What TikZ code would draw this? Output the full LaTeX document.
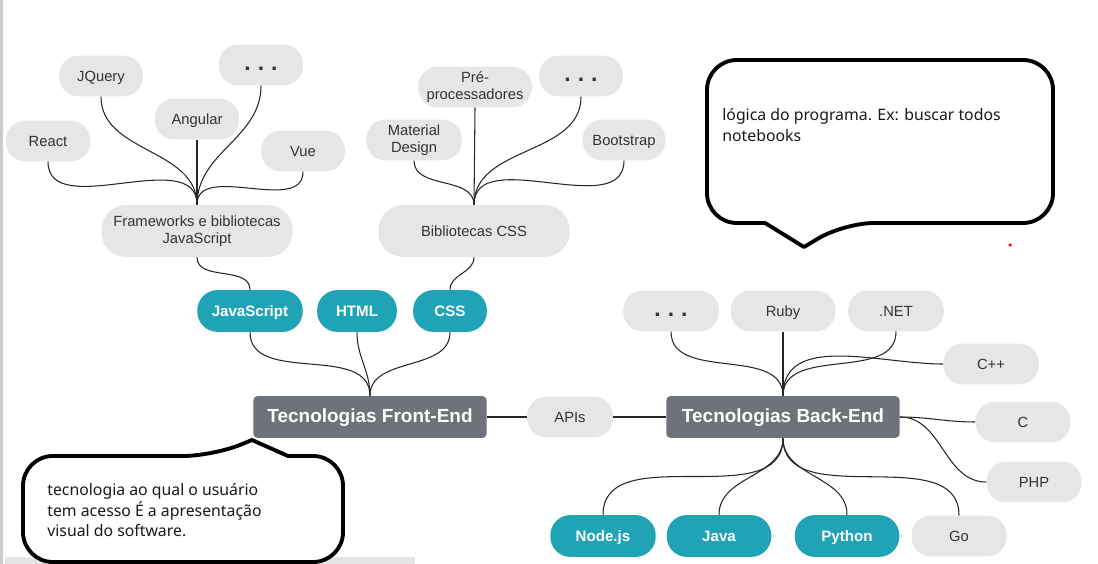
\documentclass[tikz,border=0pt]{standalone}
\usepackage{fontspec}
\setmainfont{Liberation Sans}
\newfontfamily\notefont{Noto Sans}

\definecolor{leafgray}{HTML}{E6E6E8}
\definecolor{langteal}{HTML}{1FA3B5}
\definecolor{techgray}{HTML}{6E737B}
\definecolor{leaftext}{HTML}{333333}

\tikzset{
leaf/.style={rectangle,rounded corners=11pt,fill=leafgray,text=leaftext,font=\fontsize{8.4}{9.8}\selectfont,minimum height=23.2pt,minimum width=48pt,inner sep=2pt,align=center,text height=1.55ex,text depth=0.45ex},
twoline/.style={text height=,text depth=},
moreleaf/.style={leaf,font=\fontsize{13}{13}\selectfont\bfseries},
lang/.style={rectangle,rounded corners=11.5pt,fill=langteal,text=white,font=\fontsize{8.6}{10}\selectfont\bfseries,minimum height=23.8pt,minimum width=60pt,inner sep=2pt,text height=1.55ex,text depth=0.45ex},
tech/.style={rectangle,rounded corners=2.3pt,fill=techgray,text=white,font=\fontsize{10.8}{12}\selectfont\bfseries,minimum height=23.8pt,minimum width=132.7pt,text height=1.55ex,text depth=0.45ex},
link/.style={draw=black!85,line width=0.6pt},
bubble/.style={draw=black,line width=2.2pt,fill=white,line join=round},
note/.style={anchor=north west,inner sep=0pt,align=left,text=black!90,font=\notefont\fontsize{9}{11.8}\selectfont}
}

\begin{document}
\begin{tikzpicture}[x=0.02cm,y=-0.02cm]
\useasboundingbox (0,0) rectangle (1098,564);
\fill[black!20] (0,0) rectangle (3,564);
\fill[black!10] (5,557) rectangle (415,564);

\path (48,141) node[leaf](React) {React}
(101,76) node[leaf,minimum width=47.6pt](JQuery) {JQuery}
(197,119) node[leaf](Angular) {Angular}
(261,65) node[moreleaf](js_more) {.\hspace{4pt}.\hspace{4pt}.}
(303,151) node[leaf,minimum width=47.6pt](Vue) {Vue}
(197,231) node[leaf,twoline,minimum width=108.8pt,minimum height=29.5pt,rounded corners=14pt](fw_js) {Frameworks e bibliotecas\\JavaScript}
(414,140) node[leaf,twoline,minimum width=54.4pt](Material) {Material\\Design}
(475,87) node[leaf,twoline,minimum width=64.6pt](Pre) {Pré-\\processadores}
(581,76) node[moreleaf,minimum width=47.6pt](css_more) {.\hspace{4pt}.\hspace{4pt}.}
(624,140) node[leaf,minimum width=47pt](Bootstrap) {Bootstrap}
(474,231) node[leaf,minimum width=108.8pt,minimum height=29.5pt,rounded corners=14pt](lib_css) {Bibliotecas CSS}
(250,311) node[lang](JavaScript) {JavaScript}
(357,311) node[lang,minimum width=45.4pt](HTML) {HTML}
(450,311) node[lang,minimum width=42pt](CSS) {CSS}
(370,417) node[tech](Front_End) {Tecnologias Front-End}
(570,417) node[leaf,minimum width=48.8pt](APIs) {APIs}
(783,417) node[tech](Back_End) {Tecnologias Back-End}
(671,311) node[moreleaf,minimum width=54.4pt](be_more) {.\hspace{4pt}.\hspace{4pt}.}
(783,311) node[leaf,minimum width=59.5pt](Ruby) {Ruby}
(896,311) node[leaf,minimum width=54.4pt](NET) {.NET}
(991,364) node[leaf,minimum width=54.4pt](Cpp) {C++}
(1023,422) node[leaf,minimum width=54pt](C_lang) {C}
(1034,482) node[leaf,minimum width=54pt](PHP) {PHP}
(603,536) node[lang](Nodejs) {Node.js}
(719,536) node[lang,minimum width=59.5pt](Java) {Java}
(847,536) node[lang,minimum width=59.5pt](Python) {Python}
(959,536) node[leaf,minimum width=54pt](Go) {Go}
;

\draw[link] (React.south) to[out=-90,in=90] (fw_js.north);
\draw[link] (JQuery.south) to[out=-90,in=90] (fw_js.north);
\draw[link] (Angular.south) -- (fw_js.north);
\draw[link] (js_more.south) to[out=-90,in=90] (fw_js.north);
\draw[link] (Vue.south) to[out=-90,in=90] (fw_js.north);

\draw[link] (Material.south) to[out=-90,in=90] (lib_css.north);
\draw[link] (Pre.south) -- (lib_css.north);
\draw[link] (css_more.south) to[out=-90,in=90] (lib_css.north);
\draw[link] (Bootstrap.south) to[out=-90,in=90] (lib_css.north);

\draw[link] (fw_js.south) to[out=-90,in=90] (JavaScript.north);
\draw[link] (lib_css.south) to[out=-90,in=90] (CSS.north);
\draw[link] (JavaScript.south) to[out=-90,in=90] (Front_End.north);
\draw[link] (HTML.south) to[out=-90,in=90] (Front_End.north);
\draw[link] (CSS.south) to[out=-90,in=90] (Front_End.north);

\draw[link] (Front_End) -- (APIs);
\draw[link] (APIs) -- (Back_End);

\draw[link] (be_more.south) to[out=-90,in=90] (Back_End.north);
\draw[link] (Ruby.south) -- (Back_End.north);
\draw[link] (NET.south) to[out=-90,in=90] (Back_End.north);
\draw[link] (Cpp.west) to[out=180,in=90] (Back_End.north);
\draw[link] (Back_End.east) to[out=0,in=180] (C_lang.west);
\draw[link] (Back_End.east) to[out=0,in=180] (PHP.west);
\draw[link] (Back_End.south) to[out=-90,in=90] (Nodejs.north);
\draw[link] (Back_End.south) to[out=-90,in=90] (Java.north);
\draw[link] (Back_End.south) to[out=-90,in=90] (Python.north);
\draw[link] (Back_End.south) to[out=-90,in=90] (Go.north);

\draw[bubble] (880,60) [rounded corners=17pt] -- (1053,60) -- (1053,223) -- (844,223) [sharp corners] -- (804,247) -- (765,223) [rounded corners=17pt] -- (707,223) -- (707,60) -- cycle;
\node[note] (back_note) at (722,108) {lógica do programa. Ex: buscar todos\\notebooks};
\fill[red] (1010,245) circle (1pt);

\draw[bubble] (100,562) [rounded corners=17pt] -- (23,562) -- (23,456) -- (213,456) [sharp corners] -- (252,440) -- (288,456) [rounded corners=17pt] -- (343,456) -- (343,562) -- cycle;
\node[note] (front_note) at (47,483) {tecnologia ao qual o usuário\\tem acesso É a apresentação\\visual do software.};
\end{tikzpicture}
\end{document}
